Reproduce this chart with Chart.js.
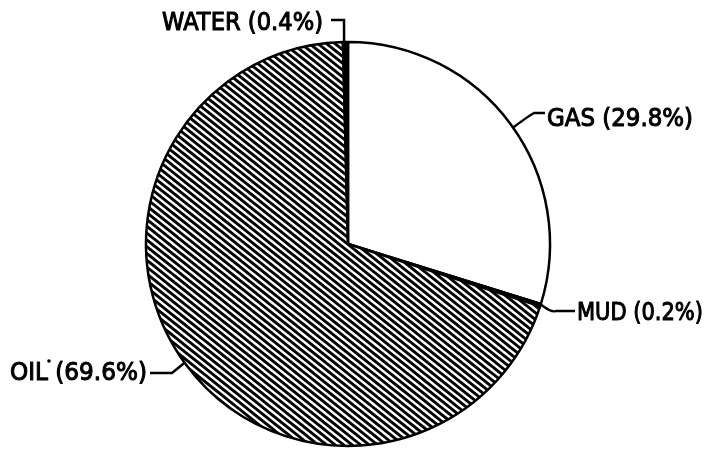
<!DOCTYPE html>
<html><head><meta charset="utf-8">
<script src="https://cdn.jsdelivr.net/npm/chart.js@4/dist/chart.umd.min.js"></script>
<style>html,body{margin:0;padding:0;background:#fff}</style>
</head><body>
<canvas id="c" width="710" height="451" style="display:block;width:710px;height:451px"></canvas>
<script>
// ---- data ----
const categories = ['GAS', 'MUD', 'OIL', 'WATER'];
const shares = [29.8, 0.2, 69.6, 0.4];
const labelTexts = ['GAS (29.8%)', 'MUD (0.2%)', 'OIL (69.6%)', 'WATER (0.4%)'];

// ---- hatch pattern (slope 0.8, vertical gap 6.8px) ----
function makeHatch() {
  const W = 17, H = 34, gap = 6.8, s = 0.8;
  const t = document.createElement('canvas');
  t.width = W; t.height = H;
  const g = t.getContext('2d');
  g.fillStyle = '#fff'; g.fillRect(0, 0, W, H);
  g.strokeStyle = '#000'; g.lineWidth = 2.9;
  for (let k = -10; k <= 10; k++) {
    const c = k * gap;
    g.beginPath();
    g.moveTo(-10, c - 10 * s); g.lineTo(W + 10, c + s * (W + 10));
    g.stroke();
  }
  return document.getElementById('c').getContext('2d').createPattern(t, 'repeat');
}
const hatch = makeHatch();
const fills = ['#ffffff', '#000000', hatch, '#000000'];

// ---- label layout (annotation geometry) ----
const labelLayout = [
  { angle: -35.2, path: 'curve', ctrl: [530, 113], end: [545, 113], tx: 547, base: 126, w: 146 },
  { angle: 17.4, path: 'curve', ctrl: [552, 311], end: [575, 311], tx: 577, base: 320, w: 126 },
  { angle: 144, path: 'poly', pts: [[172, 373], [150, 373]], tx: 10, base: 380, w: 137 },
  { angle: -91.1, path: 'poly', pts: [[344, 20], [331, 20]], tx: 162, base: 30, w: 161 }
];

const labelPlugin = {
  id: 'leaderLabels',
  afterDraw(chart) {
    const ctx = chart.ctx;
    const arc = chart.getDatasetMeta(0).data[0];
    const cx = arc.x, cy = arc.y, r = arc.outerRadius;
    ctx.save();
    ctx.strokeStyle = '#000'; ctx.lineWidth = 2.5; ctx.lineJoin = 'miter';
    ctx.fillStyle = '#000';
    ctx.font = '25px "DejaVu Sans", sans-serif';
    ctx.textBaseline = 'alphabetic';
    labelLayout.forEach((L, i) => {
      const a = L.angle * Math.PI / 180;
      const px = cx + r * Math.cos(a), py = cy + r * Math.sin(a);
      ctx.beginPath();
      ctx.moveTo(px, py);
      if (L.path === 'curve') {
        ctx.quadraticCurveTo(L.ctrl[0], L.ctrl[1] + 2, L.ctrl[0] + 4, L.ctrl[1]);
        ctx.lineTo(L.end[0], L.end[1]);
      } else {
        L.pts.forEach(p => ctx.lineTo(p[0], p[1]));
      }
      ctx.stroke();
      const txt = labelTexts[i];
      const m = ctx.measureText(txt).width;
      ctx.save();
      ctx.translate(L.tx, L.base);
      ctx.scale(L.w / m, 1);
      ctx.fillText(txt, 0, 0);
      ctx.lineWidth = 1.1;
      ctx.lineJoin = 'round';
      ctx.strokeText(txt, 0, 0);
      ctx.restore();
      if (categories[i] === 'OIL') {
        const wOil = ctx.measureText('OIL').width * (L.w / m);
        ctx.beginPath();
        ctx.arc(L.tx + wOil + 1, L.base - 19, 1.8, 0, Math.PI * 2);
        ctx.fill();
      }
    });
    ctx.restore();
  }
};

new Chart(document.getElementById('c'), {
  type: 'pie',
  data: {
    labels: categories,
    datasets: [{
      data: shares,
      backgroundColor: fills,
      borderColor: '#000',
      borderWidth: 2.5,
      radius: 202
    }]
  },
  options: {
    responsive: false,
    animation: false,
    devicePixelRatio: 1,
    layout: { padding: { left: 145, right: 159, top: 41, bottom: 4 } },
    plugins: { legend: { display: false }, tooltip: { enabled: false } }
  },
  plugins: [labelPlugin]
});
</script>
</body></html>
